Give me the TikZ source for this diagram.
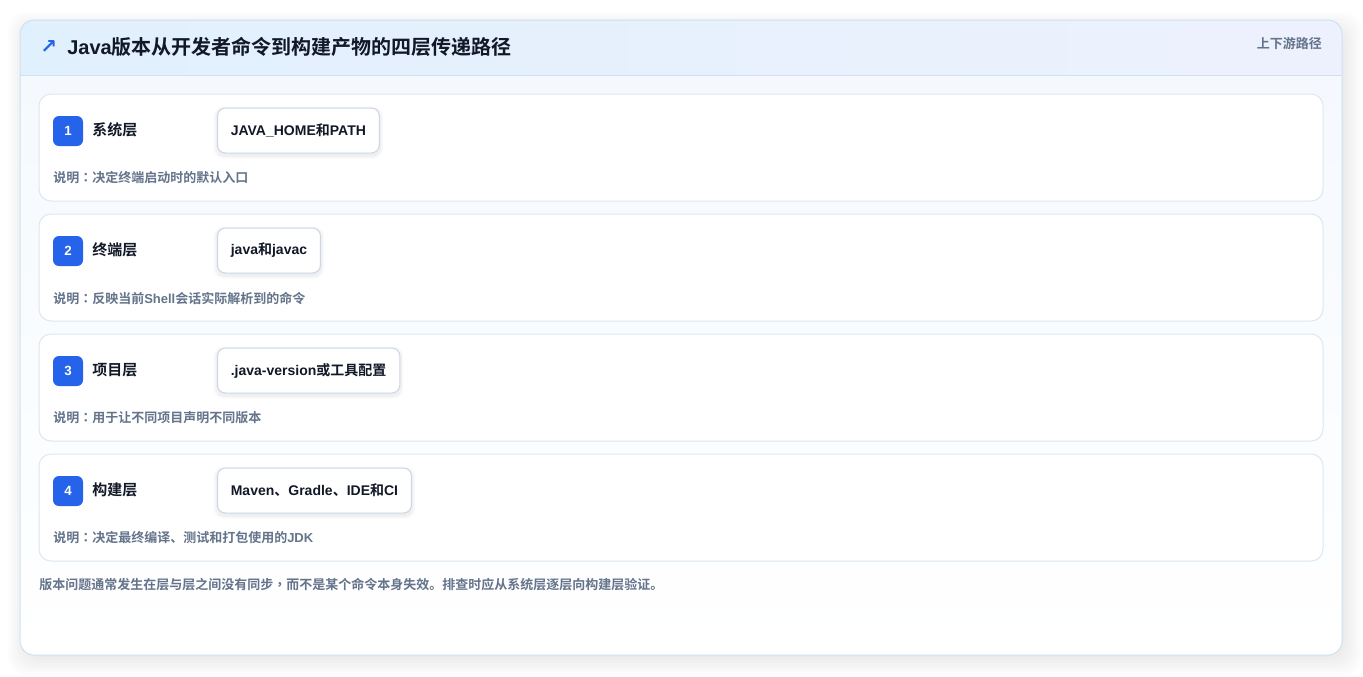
\documentclass[tikz,border=0pt]{standalone}
\usepackage{fontspec}
\setmainfont{Liberation Sans}
\newfontfamily\cjk{Noto Sans CJK SC}[BoldFont={Noto Sans CJK SC Bold}]
\newfontfamily\cjktc{Noto Sans CJK TC}[BoldFont={Noto Sans CJK TC Bold}]
\definecolor{cardborder}{HTML}{CBE2F2}
\definecolor{rowborder}{HTML}{DCE7F1}
\definecolor{pillborder}{HTML}{C9D7E8}
\definecolor{badge}{HTML}{2563EB}
\definecolor{ink}{HTML}{111827}
\definecolor{muted}{HTML}{64748B}
\definecolor{hdrL}{HTML}{E1F0FD}
\definecolor{hdrR}{HTML}{EDF1FD}
\definecolor{bodybg}{HTML}{F5F9FE}
\tikzset{
  rowcard/.style={draw=rowborder, line width=0.75pt, fill=white, rounded corners=9pt},
  badgebox/.style={fill=badge, rounded corners=4.5pt},
  badgenum/.style={text=white, font=\bfseries\fontsize{10}{12}\selectfont},
  layerlabel/.style={anchor=west, text=ink, font=\cjk\bfseries\fontsize{11.25}{13}\selectfont, inner sep=0pt},
  pill/.style={anchor=west, draw=pillborder, line width=0.75pt, fill=white, rounded corners=6pt,
    minimum height=33.75pt, inner xsep=10pt, inner ysep=0pt, text=ink,
    font=\bfseries\fontsize{10.5}{12}\selectfont},
  pillshadow/.style={fill=black, opacity=0.016, rounded corners=7pt},
  desc/.style={anchor=west, text=muted, font=\bfseries\fontsize{9.75}{12}\selectfont, inner sep=0pt},
}
\begin{document}
\begin{tikzpicture}[x=0.75pt, y=-0.75pt]
\useasboundingbox (0,0) rectangle (1363,676);
\fill[white] (0,0) rectangle (1363,676);
% outer card shadow
\foreach \i in {2,5,8,11,14,17,20}{
  \fill[black, opacity=0.012, rounded corners=14pt] (20-\i+8,20-\i+12) rectangle (1342+\i,655+\i);
}
% outer card
\fill[bodybg, rounded corners=10.5pt] (20,20) rectangle (1342,655);
\begin{scope}
  \clip[rounded corners=10.5pt] (20,20) rectangle (1342,655);
  \shade[left color=hdrL, right color=hdrR] (20,20) rectangle (1342,75);
  \shade[top color=bodybg, bottom color=white] (20,75) rectangle (1342,655);
\end{scope}
\draw[cardborder, line width=0.75pt] (20,75) -- (1342,75);
\draw[cardborder, line width=0.75pt, rounded corners=10.5pt] (20,20) rectangle (1342,655);
% header texts
\node[anchor=west, inner sep=0pt, text=badge, font=\fontsize{15}{16}\selectfont] (arrow) at (40,47) {\fontspec{DejaVu Sans Bold}↗};
\node[anchor=west, inner sep=0pt, text=ink, font=\bfseries\fontsize{15}{18}\selectfont] (title) at (67,47) {Java{\cjk 版本从开发者命令到构建产物的四层传递路径}};
\node[anchor=east, inner sep=0pt, text=muted, font=\cjk\bfseries\fontsize{9.75}{12}\selectfont] (tag) at (1322,44) {上下游路径};
% rows
\foreach \k/\n/\lab/\pil/\des in {
  0/1/系统层/{JAVA\_HOME{\cjk 和}PATH}/{决定终端启动时的默认入口},
  1/2/终端层/{java{\cjk 和}javac}/{反映当前{\normalfont\bfseries Shell}会话实际解析到的命令},
  2/3/项目层/{.java-version{\cjk 或工具配置}}/{用于让不同项目声明不同版本},
  3/4/构建层/{Maven{\cjk 、}Gradle{\cjk 、}IDE{\cjk 和}CI}/{决定最终编译、测试和打包使用的{\normalfont\bfseries JDK}}}{
  \begin{scope}[yshift=-\k*90pt]
    \draw[rowcard] (39,94) rectangle (1323,201);
    \fill[badgebox] (53,116) rectangle (83,146);
    \node[badgenum] (num\n) at (68,131) {\n};
    \node[layerlabel] (lab\n) at (92,130) {\lab};
    \node[pill, draw=none, fill=none, text=white, opacity=0] (ghost\n) at (217,130.5) {\pil};
    \foreach \s in {1,2,3,4}{
      \fill[pillshadow] ([xshift=-\s*0.6pt, yshift=-1.5pt-\s*0.6pt]ghost\n.south west) rectangle ([xshift=\s*0.6pt, yshift=-1.5pt+\s*0.6pt]ghost\n.north east);
    }
    \node[pill] (pill\n) at (217,130.5) {\pil};
    \node[desc] (desc\n) at (53,178) {\cjk 说明{\cjktc ：}\des};
  \end{scope}
}
\node[anchor=west, inner sep=0pt, text=muted, font=\cjk\bfseries\fontsize{9.75}{12}\selectfont] (foot) at (39,585) {版本问题通常发生在层与层之间没有同步{\cjktc ，}而不是某个命令本身失效。排查时应从系统层逐层向构建层验证。};
\end{tikzpicture}
\end{document}
